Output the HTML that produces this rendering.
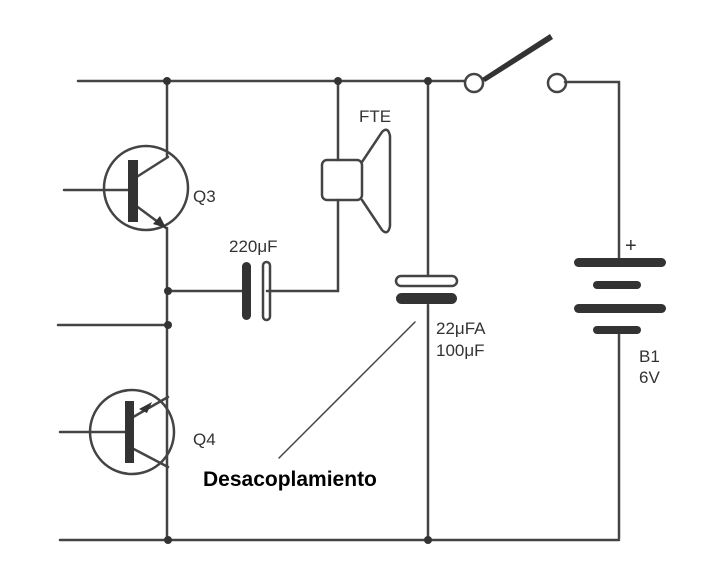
<!DOCTYPE html><html><head><style>body{margin:0;background:#fff}svg{display:block}</style></head><body>
<svg width="710" height="582" viewBox="0 0 710 582" xmlns="http://www.w3.org/2000/svg" font-family="Liberation Sans, sans-serif">
<g stroke="#444" stroke-width="2.5" fill="none" stroke-linecap="round">
<path d="M78 81H465M565 82H619V262"/>
<path d="M167 81V157M167 228V540M58 325H168M64 190H131M60 432H125"/>
<path d="M168 291H243M267 291H338V200M338 81V160"/>
<path d="M428 81V276M428 305V540M619 330V538M60 540H619"/>
<circle cx="146" cy="188" r="42"/>
<circle cx="132" cy="432" r="42"/>
<path d="M135 178L168 157M135 205L166 228M128 420L168 397M128 446L168 467"/>
<circle cx="474" cy="83" r="9"/><circle cx="557" cy="83" r="9"/>
<rect x="322" y="160" width="40" height="40" rx="5"/>
<path d="M362 162L382 132Q388 126 390 136V226Q388 236 382 230L362 200"/>
<rect x="263" y="262" width="7" height="58" rx="3.5"/>
<rect x="396" y="276" width="61" height="10" rx="5"/>
<path d="M415 322L279 458" stroke-width="1.5"/>
</g>
<g fill="#333">
<circle cx="167" cy="81" r="4"/><circle cx="338" cy="81" r="4"/><circle cx="428" cy="81" r="4"/>
<circle cx="168" cy="291" r="4"/><circle cx="168" cy="325" r="4"/><circle cx="168" cy="540" r="4"/><circle cx="428" cy="540" r="4"/>
<rect x="128" y="160" width="10" height="62"/>
<rect x="125" y="401" width="9" height="62"/>
<rect x="242" y="262" width="9" height="58" rx="4.5"/>
<rect x="396" y="293" width="61" height="11" rx="5.5"/>
<rect x="574" y="258" width="92" height="9" rx="4.5"/>
<rect x="593" y="281" width="48" height="8" rx="4"/>
<rect x="574" y="304" width="92" height="9" rx="4.5"/>
<rect x="593" y="326" width="48" height="8" rx="4"/>
<path d="M166 228L153 224L160 216Z"/>
<path d="M139 409L152 402L147 413Z"/>
<path d="M482 78L550 34L553 39L485 82Z"/>
</g>
<g fill="#333" font-size="17">
<text x="359" y="122">FTE</text>
<text x="193" y="202">Q3</text>
<text x="193" y="445">Q4</text>
<text x="229" y="252">220μF</text>
<text x="436" y="334">22μFA</text>
<text x="436" y="356">100μF</text>
<text x="625" y="252" font-size="20">+</text>
<text x="639" y="362">B1</text>
<text x="639" y="383">6V</text>
</g>
<text x="203" y="486" font-size="21" font-weight="bold" fill="#000">Desacoplamiento</text>
</svg></body></html>
